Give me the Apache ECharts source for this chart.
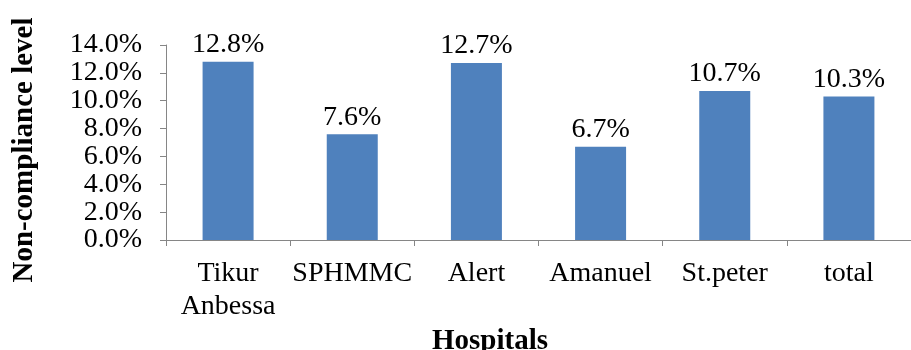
<!DOCTYPE html>
<html>
<head>
<meta charset="utf-8">
<script src="https://cdn.jsdelivr.net/npm/echarts@6/dist/echarts.min.js"></script>
<style>
  html, body { margin: 0; padding: 0; background: #fff; }
  #container { width: 911px; height: 350px; }
</style>
</head>
<body>
<div id="container"></div>
<script>
var hospitals = ['Tikur\nAnbessa', 'SPHMMC', 'Alert', 'Amanuel', 'St.peter', 'total'];
var nonCompliance = [12.8, 7.6, 12.7, 6.7, 10.7, 10.3];

var dom = document.getElementById("container");
var myChart = echarts.init(dom);
var font = '"Liberation Serif", "Times New Roman", serif';

var option = {
    animation: false,
    textStyle: { fontFamily: font },
    title: {
        text: 'Hospitals',
        left: 427,
        top: 322,
        textStyle: { fontFamily: font, fontSize: 29, fontWeight: 'bold', color: '#000' }
    },
    graphic: [{
        type: 'text',
        x: 25,
        y: 150,
        rotation: Math.PI / 2,
        style: {
            text: 'Non-compliance level',
            font: 'bold 29px ' + font,
            fill: '#000',
            align: 'center',
            verticalAlign: 'middle'
        }
    }],
    grid: {
        left: 166,
        top: 45,
        width: 753,
        height: 195
    },
    xAxis: {
        type: 'category',
        data: hospitals,
        axisLine: { lineStyle: { color: '#868686', width: 1 } },
        axisTick: { show: true, length: 6, lineStyle: { color: '#868686' } },
        axisLabel: {
            color: '#000',
            fontFamily: font,
            fontSize: 28,
            lineHeight: 33,
            margin: 17,
            interval: 0
        }
    },
    yAxis: {
        type: 'value',
        min: 0,
        max: 14,
        interval: 2,
        axisLine: { show: true, lineStyle: { color: '#868686', width: 1 } },
        axisTick: { show: true, length: 6, lineStyle: { color: '#868686' } },
        splitLine: { show: false },
        axisLabel: {
            color: '#000',
            fontFamily: font,
            fontSize: 28,
            margin: 24,
            formatter: function (v) { return v.toFixed(1) + '%'; }
        }
    },
    series: [{
        type: 'bar',
        data: nonCompliance,
        barWidth: 51,
        itemStyle: { color: '#4F81BD' },
        label: {
            show: true,
            position: 'top',
            distance: 3,
            color: '#000',
            fontFamily: font,
            fontSize: 28,
            formatter: function (p) { return p.value.toFixed(1) + '%'; }
        }
    }]
};

if (option && typeof option === "object") {
    myChart.setOption(option, true);
}
</script>
</body>
</html>
